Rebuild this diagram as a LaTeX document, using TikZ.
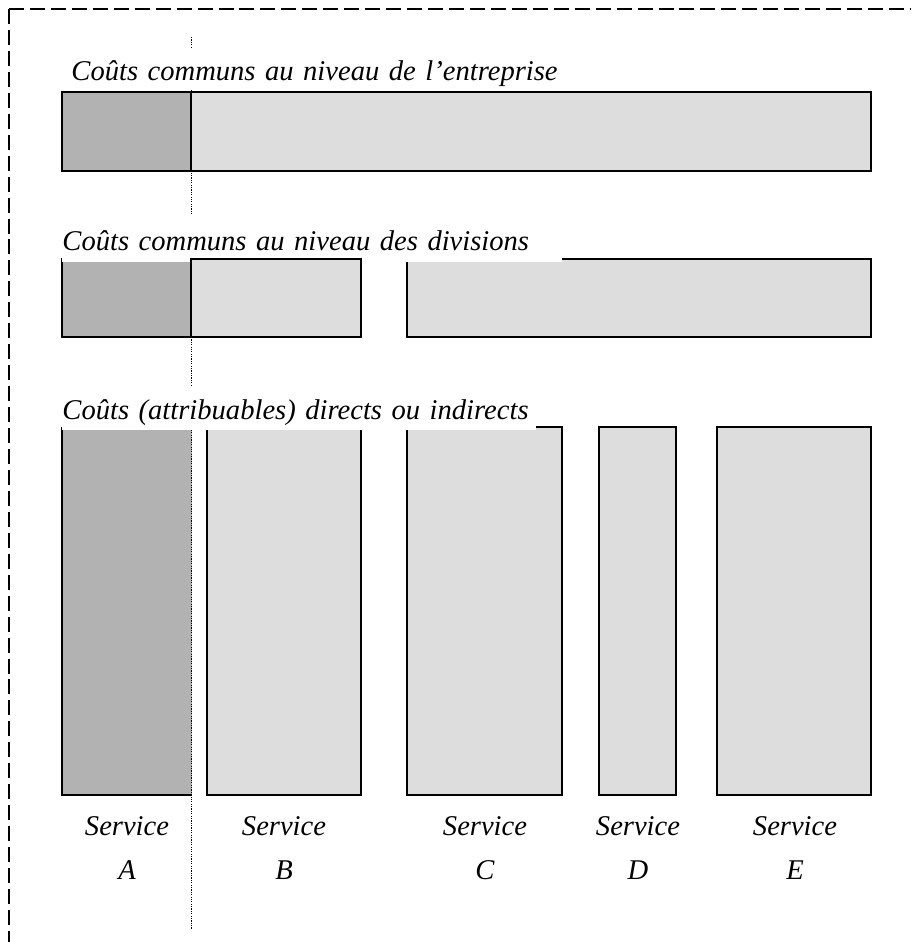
\documentclass[tikz,border=0pt]{standalone}
\usepackage{fontspec}
\setmainfont{Liberation Serif}
\usepackage{tikz}
\usetikzlibrary{positioning}
\definecolor{grisfonce}{gray}{0.70}
\definecolor{grisclair}{gray}{0.865}

\begin{document}
\begin{tikzpicture}[x=0.42pt,y=-0.42pt,
    trait/.style={line width=0.65pt},
    fonce/.style={trait,fill=grisfonce,draw=black},
    clair/.style={trait,fill=grisclair,draw=black},
    pointille/.style={line width=0.5pt,dash pattern=on 0.5pt off 0.5pt},
    titre/.style={fill=white,anchor=base west,inner sep=0pt,align=left,font=\fontsize{12}{14}\selectfont\itshape},
    service/.style={anchor=base,inner sep=0pt,font=\fontsize{12}{14}\selectfont\itshape}]
    \useasboundingbox (0,0) rectangle (911,942);
    \draw[line width=1pt,dash pattern=on 6.3pt off 2.5pt] (9,9) -- (911,9) (9,9) -- (9,942);
    \draw[clair] (62,92) rectangle (871,171);
    \draw[fonce] (62,92) rectangle (191,171);
    \draw[fonce] (62,259) rectangle (191,337);
    \draw[clair] (407,259) rectangle (871,337);
    \fill[grisfonce] (62,427) rectangle (192,795);
    \draw[trait] (192,795) -- (62,795) -- (62,427);
    \draw[clair] (207,427) rectangle (361,795);
    \draw[clair] (407,427) rectangle (562,795);
    \draw[clair] (599,427) rectangle (676,795);
    \draw[clair] (717,427) rectangle (871,795);
    \draw[pointille] (191.5,37) -- (191.5,929);
    \node[titre,text width=225pt,text height=13.4pt,text depth=4.2pt] (tEntreprise) at (71,80) {Coûts communs au niveau de l’entreprise};
    \node[titre,text width=209.6pt,text height=14.7pt,text depth=5pt] (tDivisions) at (62,250) {Coûts communs au niveau des divisions};
    \draw[clair] (191,259) rectangle (361,337);
    \node[titre,text width=198.7pt,text height=13.4pt,text depth=4.6pt] (tDirects) at (62,419) {Coûts (attribuables) directs ou indirects};
    \foreach \x/\n in {127/A,284/B,485/C,638/D,795/E}{
        \node[service] (s\n) at (\x,835) {Service};
        \node[service] (l\n) at (\x,879) {\n};
    }
\end{tikzpicture}
\end{document}
